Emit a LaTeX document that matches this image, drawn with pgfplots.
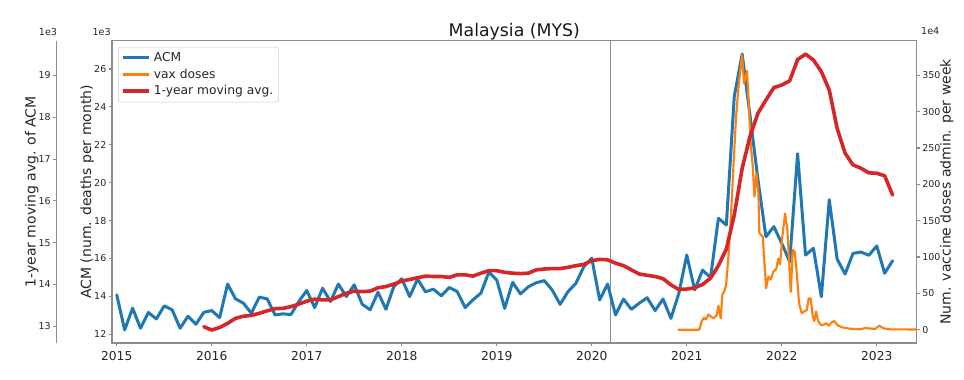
\documentclass[border=0pt]{standalone}
\usepackage{fontspec}
\setmainfont{DejaVu Sans}
\usepackage{pgfplots}
\usepackage{pgfplotstable}
\pgfplotsset{compat=1.18}
\definecolor{tabblue}{HTML}{1F77B4}
\definecolor{taborange}{HTML}{FF7F0E}
\definecolor{tabred}{HTML}{D62728}

\pgfplotstableread{
x y
2015.0000 14.08
2015.0833 12.23
2015.1667 13.38
2015.2500 12.32
2015.3333 13.15
2015.4167 12.81
2015.5000 13.50
2015.5833 13.29
2015.6667 12.32
2015.7500 12.95
2015.8333 12.53
2015.9167 13.16
2016.0000 13.25
2016.0833 12.88
2016.1667 14.65
2016.2500 13.87
2016.3333 13.64
2016.4167 13.11
2016.5000 13.96
2016.5833 13.87
2016.6667 13.02
2016.7500 13.08
2016.8333 13.04
2016.9167 13.73
2017.0000 14.31
2017.0833 13.41
2017.1667 14.43
2017.2500 13.73
2017.3333 14.65
2017.4167 13.99
2017.5000 14.61
2017.5833 13.59
2017.6667 13.29
2017.7500 14.22
2017.8333 13.32
2017.9167 14.52
2018.0000 14.93
2018.0833 13.99
2018.1667 14.91
2018.2500 14.24
2018.3333 14.38
2018.4167 14.03
2018.5000 14.47
2018.5833 14.26
2018.6667 13.41
2018.7500 13.82
2018.8333 14.17
2018.9167 15.28
2019.0000 14.87
2019.0833 13.37
2019.1667 14.74
2019.2500 14.13
2019.3333 14.51
2019.4167 14.72
2019.5000 14.83
2019.5833 14.34
2019.6667 13.58
2019.7500 14.25
2019.8333 14.69
2019.9167 15.57
2020.0000 16.01
2020.0833 13.81
2020.1667 14.65
2020.2500 13.02
2020.3333 13.86
2020.4167 13.32
2020.5000 13.64
2020.5833 13.93
2020.6667 13.25
2020.7500 13.86
2020.8333 12.84
2020.9167 14.16
2021.0000 16.18
2021.0833 14.34
2021.1667 15.39
2021.2500 14.98
2021.3333 18.12
2021.4167 17.77
2021.5000 24.54
2021.5833 26.79
2021.6667 23.50
2021.7500 20.14
2021.8333 17.15
2021.9167 17.68
2022.0000 16.80
2022.0833 15.83
2022.1667 21.53
2022.2500 16.18
2022.3333 16.54
2022.4167 13.98
2022.5000 19.10
2022.5833 15.96
2022.6667 15.18
2022.7500 16.27
2022.8333 16.34
2022.9167 16.17
2023.0000 16.66
2023.0833 15.22
2023.1667 15.88
}\acm

\pgfplotstableread{
x y
2015.9167 12.99
2016.0000 12.91
2016.0833 12.97
2016.1667 13.07
2016.2500 13.19
2016.3333 13.24
2016.4167 13.26
2016.5000 13.31
2016.5833 13.37
2016.6667 13.42
2016.7500 13.43
2016.8333 13.47
2016.9167 13.53
2017.0000 13.60
2017.0833 13.65
2017.1667 13.63
2017.2500 13.63
2017.3333 13.71
2017.4167 13.79
2017.5000 13.84
2017.5833 13.83
2017.6667 13.84
2017.7500 13.92
2017.8333 13.95
2017.9167 14.01
2018.0000 14.08
2018.0833 14.12
2018.1667 14.16
2018.2500 14.20
2018.3333 14.19
2018.4167 14.19
2018.5000 14.17
2018.5833 14.23
2018.6667 14.23
2018.7500 14.20
2018.8333 14.27
2018.9167 14.33
2019.0000 14.33
2019.0833 14.29
2019.1667 14.27
2019.2500 14.26
2019.3333 14.27
2019.4167 14.35
2019.5000 14.37
2019.5833 14.38
2019.6667 14.38
2019.7500 14.41
2019.8333 14.45
2019.9167 14.48
2020.0000 14.57
2020.0833 14.60
2020.1667 14.59
2020.2500 14.51
2020.3333 14.45
2020.4167 14.35
2020.5000 14.25
2020.5833 14.22
2020.6667 14.19
2020.7500 14.14
2020.8333 13.99
2020.9167 13.88
2021.0000 13.89
2021.0833 13.92
2021.1667 14.00
2021.2500 14.15
2021.3333 14.45
2021.4167 14.85
2021.5000 15.66
2021.5833 16.78
2021.6667 17.55
2021.7500 18.10
2021.8333 18.41
2021.9167 18.71
2022.0000 18.77
2022.0833 18.87
2022.1667 19.38
2022.2500 19.51
2022.3333 19.37
2022.4167 19.09
2022.5000 18.65
2022.5833 17.73
2022.6667 17.14
2022.7500 16.86
2022.8333 16.78
2022.9167 16.67
2023.0000 16.66
2023.0833 16.60
2023.1667 16.14
}\mavg

\pgfplotstableread{
x y
2020.912 0
2021.133 0
2021.158 12
2021.182 16.5
2021.203 14
2021.227 21
2021.256 18
2021.280 15.6
2021.316 20
2021.333 33
2021.358 15.6
2021.375 48.7
2021.393 52
2021.414 61.5
2021.438 100
2021.463 151
2021.491 224
2021.519 293
2021.543 332
2021.568 362
2021.582 378
2021.603 339
2021.635 356
2021.653 307
2021.674 255
2021.695 224
2021.712 183
2021.733 215
2021.754 188
2021.764 133
2021.800 128
2021.835 57
2021.859 73
2021.884 69
2021.912 80
2021.940 83
2021.964 98
2021.982 90
2022.006 128
2022.035 160
2022.059 137
2022.080 87
2022.095 52
2022.116 110
2022.137 107
2022.158 78
2022.182 36
2022.211 22.6
2022.235 25
2022.263 27
2022.284 43
2022.305 43
2022.326 18
2022.343 12
2022.361 25
2022.382 12
2022.411 6.5
2022.438 6.5
2022.467 8.8
2022.495 5.5
2022.522 9.6
2022.551 12
2022.585 6.5
2022.632 3.3
2022.719 1.4
2022.824 0.5
2022.877 2.3
2022.982 1
2023.027 5.5
2023.069 1.9
2023.140 0.5
2023.421 0.3
}\vax

\pgfplotsset{
  every axis/.append style={
    scale only axis,
    height=226.7pt,
    /pgf/number format/assume math mode=true,
    axis line style={black!45, line width=0.8pt},
    tick style={black!45, line width=0.8pt},
    major tick length=2.6pt,
    tick align=outside,
    y tick label style={font=\fontsize{7.1}{8}\selectfont, text=black!85, inner sep=1.5pt},
  }
}

\begin{document}
\begin{tikzpicture}
% main ACM axis
\begin{axis}[
  name=main,
  at={(0pt,0pt)}, anchor=south west, width=603.5pt,
  xmin=2014.95, xmax=2023.42, ymin=11.54, ymax=27.49,
  xtick={2015,2016,2017,2018,2019,2020,2021,2022,2023},
  xticklabels={2015,2016,2017,2018,2019,2020,2021,2022,2023},
  xtick pos=bottom, ytick pos=left,
  xticklabel pos=bottom, yticklabel pos=left,
  ytick={12,14,16,18,20,22,24,26},
  yticklabel style={anchor=east},
  x tick label style={font=\fontsize{9.2}{10}\selectfont, text=black!85},
  every axis y label/.style={at={(axis description cs:-0.0307,0.5)}, rotate=90, anchor=center, font=\fontsize{10.5}{12}\selectfont, text=black!85},
  ylabel={ACM (num. deaths per month)},
  title={Malaysia (MYS)},
  every axis title/.style={at={(axis description cs:0.5,1)}, anchor=base, yshift=3.5pt, font=\fontsize{13}{15}\selectfont, text=black!90},
]
\addplot[black!45, line width=0.8pt] coordinates {(2020.196,11.54) (2020.196,27.49)};
\addplot[tabblue, line width=2.25pt, line join=round, line cap=round] table {\acm};
\end{axis}

% vaccine axis (right)
\begin{axis}[
  name=vaxax,
  at={(0pt,0pt)}, anchor=south west, width=603.5pt,
  xmin=2014.95, xmax=2023.42, ymin=-18.3, ymax=397.6,
  hide x axis, axis y line*=right,
  ytick={0,50,100,150,200,250,300,350},
  yticklabel style={anchor=west},
  every axis y label/.style={at={(axis description cs:1.0373,0.5)}, rotate=90, anchor=center, font=\fontsize{10.5}{12}\selectfont, text=black!85},
  ylabel={Num. vaccine doses admin. per week},
]
\addplot[taborange, line width=1.6pt, line join=round, line cap=round] table {\vax};
\end{axis}

% moving average axis (offset left)
\begin{axis}[
  name=mavgax,
  at={(-41.75pt,0pt)}, anchor=south west, width=645.25pt,
  xmin=2014.364, xmax=2023.42, ymin=12.60, ymax=19.83,
  hide x axis, axis y line*=left,
  ytick={13,14,15,16,17,18,19},
  yticklabel style={anchor=east},
  every axis y label/.style={at={(axis description cs:-0.0286,0.5)}, rotate=90, anchor=center, font=\fontsize{10.5}{12}\selectfont, text=black!85},
  ylabel={1-year moving avg. of ACM},
  legend cell align=left,
  legend image code/.code={\draw[#1, line cap=butt] (0pt,0pt) -- (20pt,0pt);},
  legend style={at={(axis description cs:0.0717,0.98)}, anchor=north west,
    draw=black!20, rounded corners=2pt, fill=white, fill opacity=0.8, text opacity=1,
    font=\fontsize{9.2}{11}\selectfont, text=black!85, inner sep=2pt, row sep=0pt},
]
\addplot[tabred, line width=2.7pt, line join=round, line cap=round, forget plot] table {\mavg};
\addlegendimage{tabblue, line width=2.25pt}
\addlegendentry{ACM}
\addlegendimage{taborange, line width=1.6pt}
\addlegendentry{vax doses}
\addlegendimage{tabred, line width=2.7pt}
\addlegendentry{1-year moving avg.}
\end{axis}

\node[anchor=base east, font=\fontsize{7.2}{8}\selectfont, text=black!85, inner sep=0pt] at ([yshift=4.3pt, xshift=-0.75pt]main.north west) {1e3};
\node[anchor=base east, font=\fontsize{7.2}{8}\selectfont, text=black!85, inner sep=0pt] at ([yshift=4.3pt, xshift=0.75pt]mavgax.north west) {1e3};
\node[anchor=base west, font=\fontsize{7.2}{8}\selectfont, text=black!85, inner sep=0pt] at ([yshift=4.3pt, xshift=3.2pt]vaxax.north east) {1e4};

\pgfresetboundingbox
\useasboundingbox (-84pt,-27pt) rectangle (639pt,257.25pt);
\end{tikzpicture}
\end{document}
